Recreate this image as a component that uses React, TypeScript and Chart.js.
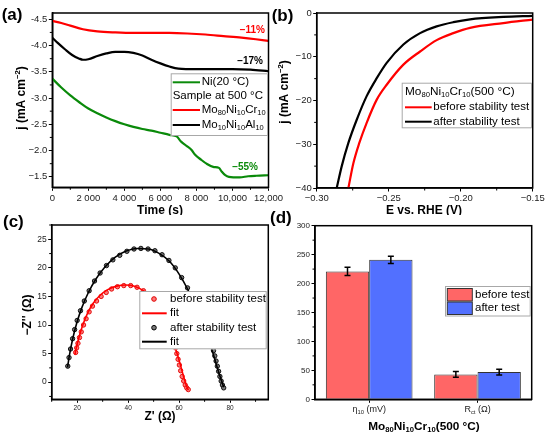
import React, { useEffect, useRef } from "react";
import { Chart, registerables } from "chart.js";

Chart.register(...registerables);

const FONT = '"Liberation Sans", Arial, Helvetica, sans-serif';

// ===== (a) chronoamperometry: time (s) vs j (mA cm-2) =====
const timeCr = [0, 500, 1000, 1700, 2500, 3500, 4500, 5500, 6500, 7500, 8500, 9500, 10500, 11300, 12000];
const jCr = [-4.47, -4.43, -4.38, -4.31, -4.27, -4.25, -4.24, -4.24, -4.24, -4.23, -4.21, -4.18, -4.15, -4.12, -4.09];
const timeAl = [0, 300, 700, 1100, 1500, 1700, 2000, 2500, 3000, 3500, 4000, 4500, 5000, 5500, 6000, 6500, 7000, 8000, 9000, 10000, 11000, 12000];
const jAl = [-4.15, -4.05, -3.93, -3.82, -3.75, -3.73, -3.74, -3.8, -3.85, -3.88, -3.88, -3.86, -3.81, -3.73, -3.66, -3.6, -3.56, -3.55, -3.55, -3.55, -3.54, -3.51];
const timeNi = [0, 500, 1000, 1500, 2000, 2500, 3000, 3500, 4000, 4500, 5000, 5500, 6000, 6500, 6900, 7150, 7450, 7730, 7900, 8280, 8560, 8930, 9250, 9400, 9600, 9800, 10400, 10870, 11330, 12000];
const jNi = [-3.37, -3.2, -3.05, -2.92, -2.8, -2.71, -2.63, -2.56, -2.5, -2.45, -2.41, -2.38, -2.34, -2.3, -2.27, -2.17, -2.09, -2.01, -1.93, -1.82, -1.75, -1.69, -1.67, -1.6, -1.53, -1.5, -1.49, -1.51, -1.52, -1.53];
const xTicksA = [0, 2000, 4000, 6000, 8000, 10000, 12000];
const xTickLabelsA = ["0", "2 000", "4 000", "6 000", "8 000", "10,000", "12,000"];
const yTicksA = [-4.5, -4.0, -3.5, -3.0, -2.5, -2.0, -1.5];
const yTickLabelsA = ["-4.5", "-4.0", "-3.5", "-3.0", "-2.5", "\u22122.0", "\u22121.5"];

// ===== (b) LSV: E vs RHE (V) vs j =====
const eBefore = [-0.278, -0.2745, -0.2704, -0.2653, -0.2583, -0.2514, -0.2398, -0.2282, -0.2167, -0.2051, -0.1935, -0.1704, -0.15];
const jBefore = [-40, -34.3, -29.7, -25.1, -19.8, -16.4, -11.8, -8.8, -6.2, -4.6, -3.4, -2.3, -1.5];
const eAfter = [-0.2861, -0.2826, -0.278, -0.2722, -0.2653, -0.2583, -0.2514, -0.2398, -0.2282, -0.2167, -0.2051, -0.1935, -0.1704, -0.15];
const jAfter = [-40, -35, -29.7, -24.4, -19, -14.9, -11.4, -7.2, -4.6, -3.05, -2.1, -1.45, -0.9, -0.65];
const xTicksB = [-0.3, -0.25, -0.2, -0.15];
const xTickLabelsB = ["\u22120.30", "\u22120.25", "\u22120.20", "\u22120.15"];
const yTicksB = [-40, -30, -20, -10, 0];
const yTickLabelsB = ["\u221240", "\u221230", "\u221220", "\u221210", "0"];

// ===== (c) Nyquist: Z' vs -Z'' =====
const zReBefore = [19.4, 19.8, 20.3, 20.9, 21.6, 22.5, 23.5, 24.7, 26, 27.6, 29.4, 31.4, 33.5, 35.8, 38.3, 41, 43.5, 46, 48.5, 51, 53, 55, 56.7, 58, 58.6, 59.1, 59.6, 60.1, 60.6, 61.2, 61.8, 62.4, 63, 63.6];
const zImBefore = [5.2, 6, 6.8, 7.8, 8.8, 10, 11.1, 12.3, 13.3, 14.2, 15, 15.7, 16.3, 16.7, 16.9, 16.9, 16.6, 16, 15.1, 13.9, 12.5, 10.8, 9, 7.3, 6, 5, 4, 3, 2, 1, 0.2, -0.5, -1, -1.3];
const zReFitBefore = [19.1, 19.8, 20.8, 22.2, 24, 26.3, 29, 32, 35.5, 39, 42.5, 46, 49.5, 52.5, 55.2, 57.3, 58.8, 60.2, 61.5, 62.7, 63.6];
const zImFitBefore = [4.8, 6.3, 8, 10, 12, 13.8, 15.2, 16.2, 16.8, 17, 16.8, 16, 14.6, 12.7, 10.3, 7.8, 5.6, 3.5, 1.4, -0.4, -1.4];
const zReAfter = [16.3, 16.8, 17.4, 18.2, 19, 20, 21.3, 22.8, 24.7, 26.8, 29, 31.5, 34, 36.7, 39.5, 42.3, 45, 47.8, 50.5, 53.3, 56, 58.5, 61, 63.3, 65.5, 67.7, 69.8, 71.6, 73, 73.5, 74, 74.5, 75, 75.5, 76, 76.5, 77, 77.5];
const zImAfter = [2.8, 4.3, 5.8, 7.6, 9.2, 10.8, 12.5, 14.2, 16, 17.7, 19.1, 20.4, 21.4, 22.2, 22.9, 23.3, 23.4, 23.3, 23, 22.3, 21.3, 20, 18.3, 16.5, 14.4, 12.1, 9.8, 7.6, 6.2, 5.5, 4.6, 3.7, 2.8, 1.9, 1, 0.2, -0.5, -1];
const zReFitAfter = [16.2, 17, 18.2, 19.8, 21.8, 24.3, 27.3, 30.8, 34.7, 39, 43.5, 48, 52.3, 56.3, 60, 63.3, 66.3, 69, 71.3, 73.2, 74.8, 76.2, 77.5];
const zImFitAfter = [2.6, 4.8, 7.5, 10.3, 13, 15.6, 18, 20.1, 21.8, 22.9, 23.4, 23.3, 22.5, 21.1, 18.9, 16.3, 13.4, 10.4, 7.6, 5.2, 2.8, 0.8, -0.9];
const xTicksC = [20, 40, 60, 80];
const xTickLabelsC = ["20", "40", "60", "80"];
const yTicksC = [0, 5, 10, 15, 20, 25];
const yTickLabelsC = ["0", "5", "10", "15", "20", "25"];

// ===== (d) bars =====
const dCategories = ["\u03b710 (mV)", "Rct (\u03a9)"];
const dBefore = [221, 43];
const dBeforeErr = [7, 5];
const dAfter = [241, 47];
const dAfterErr = [6.3, 5];
const yTicksD = [0, 50, 100, 150, 200, 250, 300];
const yTickLabelsD = ["0", "50", "100", "150", "200", "250", "300"];

// ---- colours ----
const RED = "#ff0000";
const GREEN = "#0a8a0a";
const BLACK = "#000000";
const BAR_RED = "rgb(255,102,102)";
const BAR_BLUE = "rgb(82,112,255)";

// ---- rich text ----
type Seg = [string, number?];
const MoNiCr: Seg[] = [["Mo"], ["80", -1], ["Ni"], ["10", -1], ["Cr"], ["10", -1]];
const MoNiAl: Seg[] = [["Mo"], ["10", -1], ["Ni"], ["10", -1], ["Al"], ["10", -1]];
const jTitle: Seg[] = [["j (mA cm"], ["\u22122", 1], [")"]];

function fnt(size: number, bold: boolean) {
  return `${bold ? "bold " : ""}${size}px ${FONT}`;
}
function drawRich(ctx: CanvasRenderingContext2D, segs: Seg[], x: number, y: number, size: number, bold = false, align = "left", color = "#000") {
  ctx.save();
  ctx.textBaseline = "middle";
  ctx.textAlign = "left";
  ctx.fillStyle = color;
  const sub = 0.65;
  let w = 0;
  for (const s of segs) {
    ctx.font = fnt(s[1] ? size * sub : size, bold);
    w += ctx.measureText(s[0]).width;
  }
  let cx = align === "center" ? x - w / 2 : align === "right" ? x - w : x;
  for (const s of segs) {
    const k = s[1] || 0;
    ctx.font = fnt(k ? size * sub : size, bold);
    const dy = k < 0 ? size * 0.3 : k > 0 ? -size * 0.33 : 0;
    ctx.fillText(s[0], cx, y + dy);
    cx += ctx.measureText(s[0]).width;
  }
  ctx.restore();
}
function drawRichV(ctx: CanvasRenderingContext2D, segs: Seg[], x: number, y: number, size: number, bold = true) {
  ctx.save();
  ctx.translate(x, y);
  ctx.rotate(-Math.PI / 2);
  drawRich(ctx, segs, 0, 0, size, bold, "center");
  ctx.restore();
}
function legendBox(ctx: CanvasRenderingContext2D, x1: number, y1: number, x2: number, y2: number) {
  ctx.save();
  ctx.fillStyle = "#fff";
  ctx.fillRect(x1, y1, x2 - x1, y2 - y1);
  ctx.strokeStyle = "#a8a8a8";
  ctx.lineWidth = 1;
  ctx.strokeRect(x1 + 0.5, y1 + 0.5, x2 - x1 - 1, y2 - y1 - 1);
  ctx.restore();
}
function legLine(ctx: CanvasRenderingContext2D, x1: number, x2: number, y: number, color: string, w = 2) {
  ctx.save();
  ctx.strokeStyle = color;
  ctx.lineWidth = w;
  ctx.beginPath();
  ctx.moveTo(x1, y);
  ctx.lineTo(x2, y);
  ctx.stroke();
  ctx.restore();
}
function legDot(ctx: CanvasRenderingContext2D, x: number, y: number, fill: string, stroke: string) {
  ctx.save();
  ctx.fillStyle = fill;
  ctx.strokeStyle = stroke;
  ctx.lineWidth = 1;
  ctx.beginPath();
  ctx.arc(x, y, 2.3, 0, Math.PI * 2);
  ctx.fill();
  ctx.stroke();
  ctx.restore();
}
function frame(chart: any) {
  const { ctx, chartArea: a } = chart;
  ctx.save();
  ctx.strokeStyle = "#000";
  ctx.lineWidth = 1.5;
  ctx.strokeRect(a.left, a.top, a.right - a.left, a.bottom - a.top);
  ctx.restore();
}
function range(a: number, b: number, step: number) {
  const r: number[] = [];
  for (let v = a; v <= b + 1e-9; v += step) r.push(+v.toFixed(6));
  return r;
}
function minor(chart: any, id: string, vals: number[], len = 2.5) {
  const s = chart.scales[id];
  const a = chart.chartArea;
  const ctx = chart.ctx;
  ctx.save();
  ctx.strokeStyle = "#000";
  ctx.lineWidth = 1;
  ctx.beginPath();
  for (const v of vals) {
    const p = s.getPixelForValue(v);
    if (s.isHorizontal()) {
      ctx.moveTo(p, a.bottom);
      ctx.lineTo(p, a.bottom + len);
    } else {
      ctx.moveTo(a.left, p);
      ctx.lineTo(a.left - len, p);
    }
  }
  ctx.stroke();
  ctx.restore();
}
function zip(xs: number[], ys: number[]) {
  return xs.map((x, i) => ({ x, y: ys[i] }));
}
function lineDs(xs: number[], ys: number[], color: string, width = 2.2) {
  return {
    data: zip(xs, ys),
    showLine: true,
    borderColor: color,
    backgroundColor: color,
    borderWidth: width,
    pointRadius: 0,
    cubicInterpolationMode: "monotone",
  };
}
function dotDs(xs: number[], ys: number[], fill: string, stroke: string) {
  return {
    data: zip(xs, ys),
    showLine: false,
    pointRadius: 2.2,
    pointBackgroundColor: fill,
    pointBorderColor: stroke,
    pointBorderWidth: 0.9,
  };
}
function linAxis(o: { horizontal: boolean; min: number; max: number; reverse?: boolean; ticks: number[]; labels: string[]; fit: number; size: number }) {
  return {
    type: "linear",
    position: o.horizontal ? "bottom" : "left",
    min: o.min,
    max: o.max,
    reverse: !!o.reverse,
    afterBuildTicks: (s: any) => {
      s.ticks = o.ticks.map((v) => ({ value: v }));
    },
    afterFit: (s: any) => {
      if (o.horizontal) {
        s.height = o.fit;
        s.paddingLeft = 0;
        s.paddingRight = 0;
      } else {
        s.width = o.fit;
        s.paddingTop = 0;
        s.paddingBottom = 0;
      }
    },
    ticks: {
      autoSkip: false,
      maxRotation: 0,
      minRotation: 0,
      padding: 1.5,
      color: "#1c1c1c",
      font: { family: FONT, size: o.size },
      callback: (_v: any, i: number) => o.labels[i] ?? "",
    },
    grid: { display: true, drawOnChartArea: false, drawTicks: true, tickLength: 3.5, color: "#000", lineWidth: 1 },
    border: { display: true, color: "#000", width: 1.5 },
  };
}
function baseOptions(pad: { top: number; right: number }) {
  return {
    responsive: false,
    animation: false,
    layout: { autoPadding: false, padding: { top: pad.top, right: pad.right, left: 0, bottom: 0 } },
    plugins: { legend: { display: false }, tooltip: { enabled: false } },
  };
}
function decor(fn: (chart: any, ctx: CanvasRenderingContext2D) => void) {
  return { id: "decor", afterDraw: (chart: any) => fn(chart, chart.ctx) };
}

// ---- panel boxes (page coords) ----
const PA = { left: 0, top: 0, width: 290, height: 215 };
const PB = { left: 266, top: 0, width: 284, height: 215 };
const PC = { left: 0, top: 200, width: 275, height: 239 };
const PD = { left: 262, top: 200, width: 288, height: 239 };

function makeA() {
  return {
    type: "scatter",
    data: {
      datasets: [lineDs(timeCr, jCr, RED), lineDs(timeAl, jAl, BLACK), lineDs(timeNi, jNi, GREEN)],
    },
    options: {
      ...baseOptions({ top: 13, right: PA.width - 268.5 }),
      scales: {
        x: linAxis({ horizontal: true, min: 0, max: 12000, ticks: xTicksA, labels: xTickLabelsA, fit: 215 - 187.3, size: 9.5 }),
        y: linAxis({ horizontal: false, min: -4.62, max: -1.3, reverse: true, ticks: yTicksA, labels: yTickLabelsA, fit: 52.3, size: 9.5 }),
      },
    },
    plugins: [
      decor((chart, ctx) => {
        frame(chart);
        minor(chart, "x", range(1000, 11000, 2000));
        minor(chart, "y", range(-4.25, -1.75, 0.5));
        ctx.save();
        ctx.translate(-PA.left, -PA.top);
        drawRich(ctx, [["Time (s)"]], 160, 210.5, 12, true, "center");
        drawRichV(ctx, jTitle, 22, 98, 12, true);
        legendBox(ctx, 170.7, 73.3, 268, 136);
        legLine(ctx, 172.7, 200, 82.3, GREEN);
        drawRich(ctx, [["Ni(20 \u00b0C)"]], 201.7, 82.3, 11.5);
        drawRich(ctx, [["Sample at 500 \u00b0C"]], 172.7, 95.8, 11.5);
        legLine(ctx, 172.7, 200, 110, RED);
        drawRich(ctx, MoNiCr, 201.7, 109.5, 11.5);
        legLine(ctx, 172.7, 200, 125, BLACK);
        drawRich(ctx, MoNiAl, 201.7, 124.5, 11.5);
        drawRich(ctx, [["\u221211%"]], 265, 30, 10, true, "right", RED);
        drawRich(ctx, [["\u221217%"]], 263, 61.7, 10, true, "right", BLACK);
        drawRich(ctx, [["\u221255%"]], 258, 167, 10, true, "right", GREEN);
        drawRich(ctx, [["(a)"]], 1.7, 15, 17, true);
        ctx.restore();
      }),
    ],
  };
}

function makeB() {
  return {
    type: "scatter",
    data: {
      datasets: [lineDs(eBefore, jBefore, RED), lineDs(eAfter, jAfter, BLACK)],
    },
    options: {
      ...baseOptions({ top: 13, right: 550 - 532.7 }),
      scales: {
        x: linAxis({ horizontal: true, min: -0.3, max: -0.15, ticks: xTicksB, labels: xTickLabelsB, fit: 215 - 188, size: 9.5 }),
        y: linAxis({ horizontal: false, min: -40, max: 0, ticks: yTicksB, labels: yTickLabelsB, fit: 316.7 - PB.left, size: 9.5 }),
      },
    },
    plugins: [
      decor((chart, ctx) => {
        frame(chart);
        minor(chart, "x", range(-0.275, -0.175, 0.05));
        minor(chart, "y", range(-35, -5, 10));
        ctx.save();
        ctx.translate(-PB.left, -PB.top);
        drawRich(ctx, [["E vs. RHE (V)"]], 424, 210.5, 12, true, "center");
        drawRichV(ctx, jTitle, 285, 92, 12, true);
        legendBox(ctx, 401.7, 82.7, 532, 128.3);
        drawRich(ctx, [...MoNiCr, ["(500 \u00b0C)"]], 405, 91.7, 11.8);
        legLine(ctx, 405, 431.7, 107.3, RED);
        drawRich(ctx, [["before stability test"]], 433.3, 107.3, 11.5);
        legLine(ctx, 405, 431.7, 121.7, BLACK);
        drawRich(ctx, [["after stability test"]], 433.3, 121.7, 11.5);
        drawRich(ctx, [["(b)"]], 271.7, 16, 17, true);
        ctx.restore();
      }),
    ],
  };
}

function makeC() {
  return {
    type: "scatter",
    data: {
      datasets: [
        lineDs(zReFitBefore, zImFitBefore, RED, 1.6),
        lineDs(zReFitAfter, zImFitAfter, BLACK, 1.6),
        dotDs(zReBefore, zImBefore, "rgb(255,120,120)", "#e00000"),
        dotDs(zReAfter, zImAfter, "rgb(120,120,120)", "#000"),
      ],
    },
    options: {
      ...baseOptions({ top: 225 - PC.top, right: PC.width - 268.3 }),
      scales: {
        x: linAxis({ horizontal: true, min: 10, max: 95, ticks: xTicksC, labels: xTickLabelsC, fit: 439 - 399.3, size: 6.5 }),
        y: linAxis({ horizontal: false, min: -3, max: 27.5, ticks: yTicksC, labels: yTickLabelsC, fit: 51.7, size: 8.5 }),
      },
    },
    plugins: [
      decor((chart, ctx) => {
        frame(chart);
        minor(chart, "x", range(10, 90, 20), 2.5);
        minor(chart, "y", range(-2.5, 27.5, 5));
        ctx.save();
        ctx.translate(-PC.left, -PC.top);
        drawRich(ctx, [["Z' (\u03a9)"]], 160, 416.7, 12, true, "center");
        drawRichV(ctx, [["\u2212Z'' (\u03a9)"]], 28, 315, 12, true);
        legendBox(ctx, 139.3, 291, 266.7, 349.3);
        legDot(ctx, 154, 299, "rgb(255,120,120)", "#e00000");
        drawRich(ctx, [["before stability test"]], 170, 299, 11.5);
        legLine(ctx, 142, 166.7, 313.3, RED);
        drawRich(ctx, [["fit"]], 170, 313.3, 11.5);
        legDot(ctx, 154, 327.7, "rgb(120,120,120)", "#000");
        drawRich(ctx, [["after stability test"]], 170, 327.7, 11.5);
        legLine(ctx, 142, 166.7, 341.7, BLACK);
        drawRich(ctx, [["fit"]], 170, 341.7, 11.5);
        drawRich(ctx, [["(c)"]], 3, 222, 17, true);
        ctx.restore();
      }),
    ],
  };
}

function makeD() {
  const catSegs: Seg[][] = [
    [["\u03b7"], ["10", -1], [" (mV)"]],
    [["R"], ["ct", -1], [" (\u03a9)"]],
  ];
  return {
    type: "bar",
    data: {
      labels: dCategories,
      datasets: [
        { label: "before test", data: dBefore, backgroundColor: BAR_RED, borderColor: "#333", borderWidth: 1, barPercentage: 1, categoryPercentage: 0.8 },
        { label: "after test", data: dAfter, backgroundColor: BAR_BLUE, borderColor: "#333", borderWidth: 1, barPercentage: 1, categoryPercentage: 0.8 },
      ],
    },
    options: {
      ...baseOptions({ top: 225.7 - PD.top, right: 550 - 531.7 }),
      scales: {
        x: {
          type: "category",
          offset: true,
          afterFit: (s: any) => {
            s.height = 439 - 399.3;
            s.paddingLeft = 0;
            s.paddingRight = 0;
          },
          ticks: { display: false },
          grid: { display: true, offset: false, drawOnChartArea: false, drawTicks: true, tickLength: 3.5, color: "#000", lineWidth: 1 },
          border: { display: true, color: "#000", width: 1.5 },
        },
        y: linAxis({ horizontal: false, min: 0, max: 300, ticks: yTicksD, labels: yTickLabelsD, fit: 315 - PD.left, size: 8 }),
      },
    },
    plugins: [
      decor((chart, ctx) => {
        const ys = chart.scales.y;
        const errs = [dBeforeErr, dAfterErr];
        const vals = [dBefore, dAfter];
        ctx.save();
        ctx.strokeStyle = "#000";
        ctx.lineWidth = 1.5;
        for (let di = 0; di < 2; di++) {
          const meta = chart.getDatasetMeta(di);
          meta.data.forEach((el: any, j: number) => {
            const top = ys.getPixelForValue(vals[di][j] + errs[di][j]);
            const bot = ys.getPixelForValue(vals[di][j] - errs[di][j]);
            ctx.beginPath();
            ctx.moveTo(el.x, top);
            ctx.lineTo(el.x, bot);
            ctx.moveTo(el.x - 3, top);
            ctx.lineTo(el.x + 3, top);
            ctx.moveTo(el.x - 3, bot);
            ctx.lineTo(el.x + 3, bot);
            ctx.stroke();
          });
        }
        ctx.restore();
        frame(chart);
        minor(chart, "y", range(25, 275, 50));
        const xs = chart.scales.x;
        catSegs.forEach((segs, i) => {
          drawRich(ctx, segs, xs.getPixelForValue(i), 410 - PD.top, 9, false, "center", "#1c1c1c");
        });
        ctx.save();
        ctx.translate(-PD.left, -PD.top);
        drawRich(ctx, [...MoNiCr, ["(500 \u00b0C)"]], 424, 426.7, 11.8, true, "center");
        legendBox(ctx, 445, 286, 530.7, 316.5);
        ctx.fillStyle = BAR_RED;
        ctx.fillRect(447.3, 288.5, 25, 12.5);
        ctx.strokeStyle = "#333";
        ctx.lineWidth = 1;
        ctx.strokeRect(447.3, 288.5, 25, 12.5);
        ctx.fillStyle = BAR_BLUE;
        ctx.fillRect(447.3, 302, 25, 12.5);
        ctx.strokeRect(447.3, 302, 25, 12.5);
        drawRich(ctx, [["before test"]], 475, 294.8, 11.5);
        drawRich(ctx, [["after test"]], 475, 308.3, 11.5);
        drawRich(ctx, [["(d)"]], 270, 218.5, 17, true);
        ctx.restore();
      }),
    ],
  };
}

function Panel({ box, make }: { box: { left: number; top: number; width: number; height: number }; make: () => any }) {
  const ref = useRef<HTMLCanvasElement>(null);
  useEffect(() => {
    const chart = new Chart(ref.current as HTMLCanvasElement, make());
    return () => chart.destroy();
  }, []);
  return (
    <div style={{ position: "absolute", left: box.left, top: box.top, width: box.width, height: box.height }}>
      <canvas ref={ref} width={box.width} height={box.height} style={{ width: box.width, height: box.height, display: "block" }} />
    </div>
  );
}

export default function App() {
  return (
    <div style={{ position: "fixed", left: 0, top: 0, width: 550, height: 439, background: "#fff", overflow: "hidden" }}>
      <Panel box={PA} make={makeA} />
      <Panel box={PB} make={makeB} />
      <Panel box={PC} make={makeC} />
      <Panel box={PD} make={makeD} />
    </div>
  );
}
